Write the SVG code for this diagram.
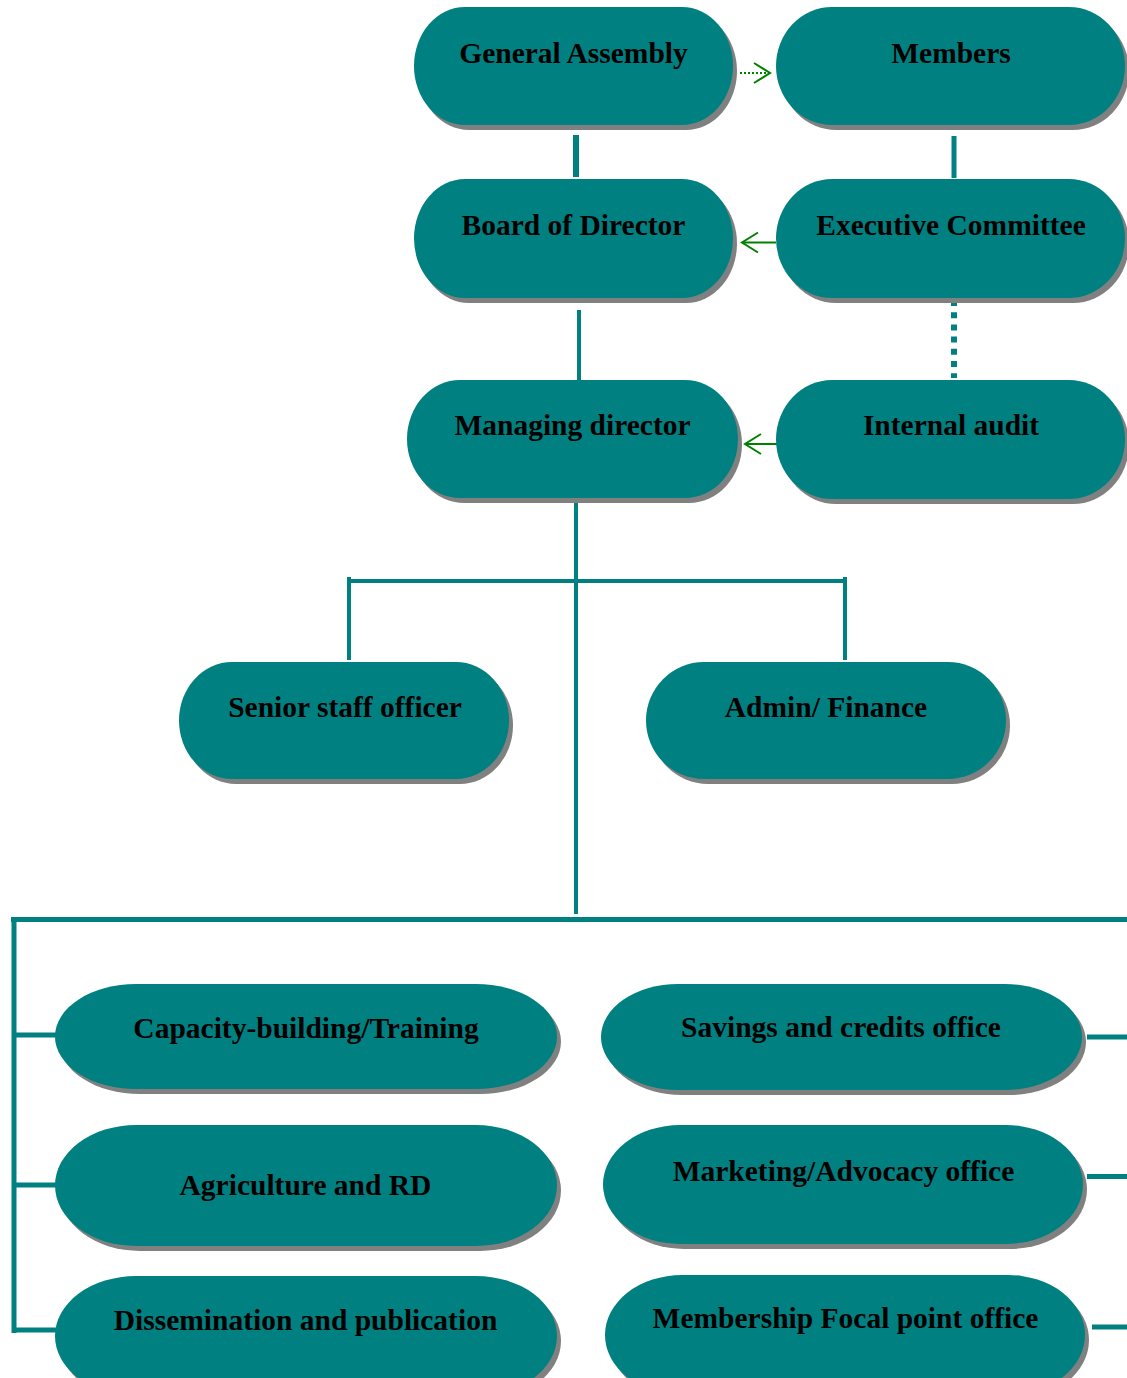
<svg xmlns="http://www.w3.org/2000/svg" width="1127" height="1378" viewBox="0 0 1127 1378">
<style>
.sh{fill:#808080}
.bx{fill:#008080}
.t{font-family:"Liberation Serif","Times New Roman",serif;font-weight:bold;font-size:29.5px;fill:#000;text-anchor:middle}
.ln{stroke:#008080;fill:none}
.ar{stroke:#008000;stroke-width:2;fill:none}
</style>
<defs>
<marker id="open" markerUnits="userSpaceOnUse" viewBox="0 0 20 24" refX="18" refY="12" markerWidth="20" markerHeight="24" orient="auto">
<path d="M2,2 L18,12 L2,22" fill="none" stroke="#008000" stroke-width="2"/>
</marker>
</defs>
<rect width="1127" height="1378" fill="#fff"/>
<g id="connectors">
<line class="ln" x1="576" y1="135" x2="576" y2="177" stroke-width="6"/>
<line class="ln" x1="954" y1="136" x2="954" y2="178" stroke-width="5"/>
<line class="ln" x1="579" y1="310" x2="579" y2="380" stroke-width="4"/>
<line class="ln" x1="954" y1="300" x2="954" y2="378" stroke-width="6" stroke-dasharray="6 6.2"/>
<line class="ln" x1="576" y1="502" x2="576" y2="914" stroke-width="4"/>
<line class="ln" x1="347" y1="581" x2="847" y2="581" stroke-width="4"/>
<line class="ln" x1="349" y1="577" x2="349" y2="660" stroke-width="4"/>
<line class="ln" x1="845" y1="577" x2="845" y2="660" stroke-width="4"/>
<line class="ln" x1="11" y1="919.5" x2="1127" y2="919.5" stroke-width="5"/>
<line class="ln" x1="14" y1="917" x2="14" y2="1333" stroke-width="5"/>
<line class="ln" x1="14" y1="1035" x2="56" y2="1035" stroke-width="5"/>
<line class="ln" x1="14" y1="1185" x2="56" y2="1185" stroke-width="5"/>
<line class="ln" x1="14" y1="1330" x2="56" y2="1330" stroke-width="5"/>
<line class="ln" x1="1087" y1="1037" x2="1127" y2="1037" stroke-width="5"/>
<line class="ln" x1="1087" y1="1176.5" x2="1127" y2="1176.5" stroke-width="5"/>
<line class="ln" x1="1092" y1="1327" x2="1127" y2="1327" stroke-width="5"/>
<line class="ar" x1="740" y1="73" x2="770" y2="73" stroke-dasharray="2 2" marker-end="url(#open)"/>
<line class="ar" x1="776" y1="242.5" x2="742" y2="242.5" marker-end="url(#open)"/>
<line class="ar" x1="782" y1="444" x2="745" y2="444" marker-end="url(#open)"/>
</g>
<g id="general-assembly">
<rect class="sh" x="418" y="12" width="319" height="118" rx="51" ry="59"/>
<rect class="bx" x="414" y="7" width="319" height="118" rx="51" ry="59"/>
<text class="t" x="573.5" y="63">General Assembly</text>
</g>
<g id="members">
<rect class="sh" x="780" y="12" width="349" height="118" rx="56" ry="59"/>
<rect class="bx" x="776" y="7" width="349" height="118" rx="56" ry="59"/>
<text class="t" x="951" y="63">Members</text>
</g>
<g id="board">
<rect class="sh" x="418" y="184" width="319" height="119" rx="51" ry="59.5"/>
<rect class="bx" x="414" y="179" width="319" height="119" rx="51" ry="59.5"/>
<text class="t" x="573.5" y="235">Board of Director</text>
</g>
<g id="executive-committee">
<rect class="sh" x="780" y="184" width="349" height="119" rx="56" ry="59.5"/>
<rect class="bx" x="776" y="179" width="349" height="119" rx="56" ry="59.5"/>
<text class="t" x="951" y="235">Executive Committee</text>
</g>
<g id="managing-director">
<rect class="sh" x="411" y="385" width="331" height="118" rx="53" ry="59"/>
<rect class="bx" x="407" y="380" width="331" height="118" rx="53" ry="59"/>
<text class="t" x="572.5" y="435">Managing director</text>
</g>
<g id="internal-audit">
<rect class="sh" x="780" y="385" width="349" height="119" rx="56" ry="59.5"/>
<rect class="bx" x="776" y="380" width="349" height="119" rx="56" ry="59.5"/>
<text class="t" x="951" y="435">Internal audit</text>
</g>
<g id="senior-staff-officer">
<rect class="sh" x="183" y="667" width="330" height="117" rx="53" ry="58.5"/>
<rect class="bx" x="179" y="662" width="330" height="117" rx="53" ry="58.5"/>
<text class="t" x="345" y="717">Senior staff officer</text>
</g>
<g id="admin-finance">
<rect class="sh" x="650" y="667" width="360" height="117" rx="58" ry="58.5"/>
<rect class="bx" x="646" y="662" width="360" height="117" rx="58" ry="58.5"/>
<text class="t" x="826" y="717">Admin/ Finance</text>
</g>
<g id="capacity-building">
<rect class="sh" x="59" y="989" width="502" height="105" rx="81" ry="52.5"/>
<rect class="bx" x="55" y="984" width="502" height="105" rx="81" ry="52.5"/>
<text class="t" x="306" y="1038">Capacity-building/Training</text>
</g>
<g id="agriculture">
<rect class="sh" x="59" y="1130" width="502" height="121" rx="81" ry="60.5"/>
<rect class="bx" x="55" y="1125" width="502" height="121" rx="81" ry="60.5"/>
<text class="t" x="305.5" y="1195">Agriculture and RD</text>
</g>
<g id="dissemination">
<rect class="sh" x="59" y="1281" width="502" height="120" rx="81" ry="60"/>
<rect class="bx" x="55" y="1276" width="502" height="120" rx="81" ry="60"/>
<text class="t" x="305.5" y="1330">Dissemination and publication</text>
</g>
<g id="savings-credits">
<rect class="sh" x="605" y="989" width="481" height="106" rx="77" ry="53"/>
<rect class="bx" x="601" y="984" width="481" height="106" rx="77" ry="53"/>
<text class="t" x="841" y="1037">Savings and credits office</text>
</g>
<g id="marketing-advocacy">
<rect class="sh" x="607" y="1130" width="480" height="119" rx="77" ry="59.5"/>
<rect class="bx" x="603" y="1125" width="480" height="119" rx="77" ry="59.5"/>
<text class="t" x="843.5" y="1181">Marketing/Advocacy office</text>
</g>
<g id="membership-focal-point">
<rect class="sh" x="609" y="1280" width="480" height="120" rx="77" ry="60"/>
<rect class="bx" x="605" y="1275" width="480" height="120" rx="77" ry="60"/>
<text class="t" x="845.5" y="1328">Membership Focal point office</text>
</g>
</svg>
